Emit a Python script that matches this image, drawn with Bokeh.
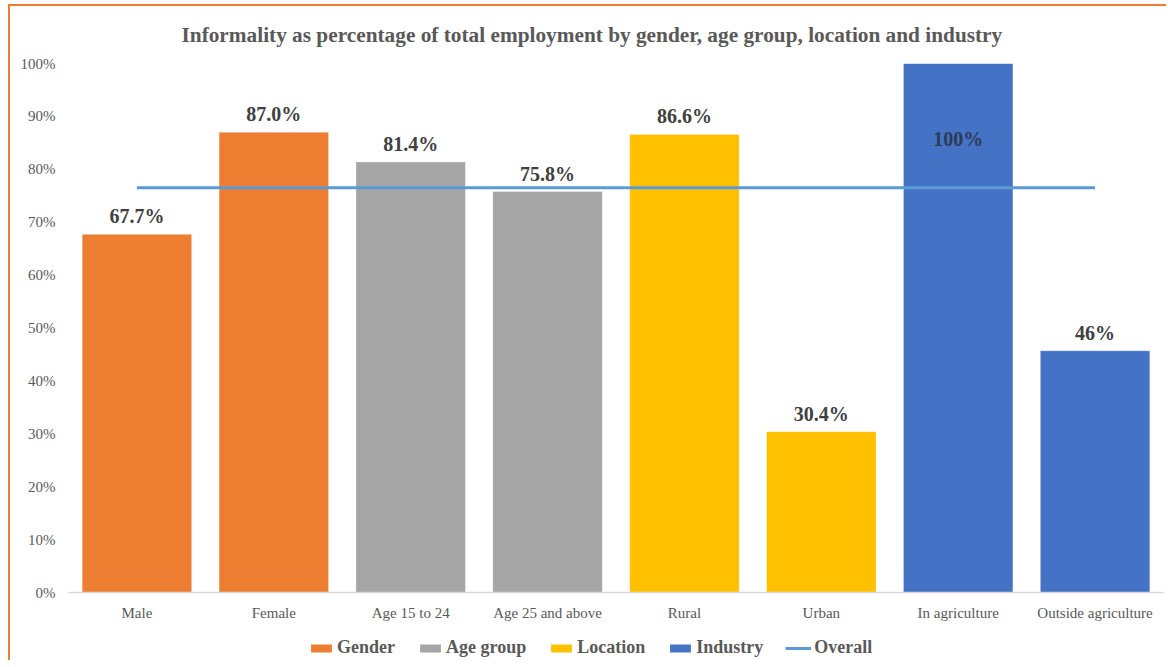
from bokeh.plotting import figure
from bokeh.layouts import column
from bokeh.models import (ColumnDataSource, Range1d, NumeralTickFormatter, FixedTicker,
                          Legend, LegendItem, Title)
from bokeh.core.properties import value
from bokeh.embed import file_html
from bokeh.resources import INLINE

# ---- data ----
categories = ["Male", "Female", "Age 15 to 24", "Age 25 and above",
              "Rural", "Urban", "In agriculture", "Outside agriculture"]
groups = ["Gender", "Gender", "Age group", "Age group",
          "Location", "Location", "Industry", "Industry"]
values = [67.7, 87.0, 81.4, 75.8, 86.6, 30.4, 100.0, 45.7]
labels = ["67.7%", "87.0%", "81.4%", "75.8%", "86.6%", "30.4%", "100%", "46%"]
overall = 76.5
group_names = ["Gender", "Age group", "Location", "Industry"]
group_colors = ["#ED7D31", "#A5A5A5", "#FFC000", "#4472C4"]
overall_color = "#5B9BD5"
y_ticks = [0, 10, 20, 30, 40, 50, 60, 70, 80, 90, 100]
title_text = "Informality as percentage of total employment by gender, age group, location and industry"

FONT = "serif"

p = figure(x_range=categories, y_range=Range1d(0, 1.0),
           width=1156, height=624, output_backend="svg", toolbar_location=None,
           min_border_left=58, min_border_right=3, min_border_top=57, min_border_bottom=38)
p.title = Title(text=title_text, align="left", offset=113, text_font=FONT,
                text_font_size="21.3px", text_font_style="bold", text_color="#595959",
                vertical_align="top", standoff=30)
p.outline_line_color = None
p.xgrid.grid_line_color = None
p.ygrid.grid_line_color = None
p.background_fill_color = "white"
p.border_fill_color = "white"

# axes
p.xaxis.axis_line_color = "#D9D9D9"
p.xaxis.axis_line_width = 1.5
p.xaxis.major_tick_line_color = None
p.xaxis.minor_tick_line_color = None
p.xaxis.major_label_text_font = FONT
p.xaxis.major_label_text_font_size = "15px"
p.xaxis.major_label_text_color = "#595959"
p.xaxis.major_label_standoff = 6

p.yaxis.axis_line_color = None
p.yaxis.major_tick_line_color = None
p.yaxis.minor_tick_line_color = None
p.yaxis.ticker = FixedTicker(ticks=[t / 100 for t in y_ticks])
p.yaxis.formatter = NumeralTickFormatter(format="0%")
p.yaxis.major_label_text_font = FONT
p.yaxis.major_label_text_font_size = "15px"
p.yaxis.major_label_text_color = "#595959"
p.yaxis.major_label_standoff = 7

# legend strip: a small figure sharing the x range; its y range lies above the data,
# so its renderers only serve as legend glyphs
p2 = figure(width=1156, height=30, output_backend="svg", toolbar_location=None,
            x_range=p.x_range, y_range=Range1d(10, 11),
            x_axis_type=None, y_axis_type=None, min_border=0)
p2.outline_line_color = None
p2.xgrid.grid_line_color = None
p2.ygrid.grid_line_color = None
p2.border_fill_color = "white"
p2.background_fill_color = "white"

items = []
for g, c in zip(group_names, group_colors):
    xs = [cat for cat, gg in zip(categories, groups) if gg == g]
    vs = [v / 100 for v, gg in zip(values, groups) if gg == g]
    src = ColumnDataSource(dict(x=xs, top=vs))
    p.vbar(x="x", top="top", width=0.8, source=src, fill_color=c,
           line_color="#FFFFFF", line_alpha=0.35, line_width=1)
    r2 = p2.vbar(x="x", top="top", width=0.8, source=src, fill_color=c, line_color=None)
    items.append(LegendItem(label=g, renderers=[r2]))

# overall line
ov_src = ColumnDataSource(dict(x=categories, y=[overall / 100] * len(categories)))
p.line(x="x", y="y", source=ov_src, line_color=overall_color, line_width=3)
l2 = p2.line(x="x", y="y", source=ov_src, line_color=overall_color, line_width=3)
items.append(LegendItem(label="Overall", renderers=[l2]))

# data labels
out_src = ColumnDataSource(dict(
    x=[c for c, v in zip(categories, values) if v < 99],
    y=[v / 100 for v in values if v < 99],
    t=[l for l, v in zip(labels, values) if v < 99]))
in_src = ColumnDataSource(dict(
    x=[c for c, v in zip(categories, values) if v >= 99],
    y=[v / 100 for v in values if v >= 99],
    t=[l for l, v in zip(labels, values) if v >= 99]))
p.text(x="x", y="y", text="t", source=out_src, text_font=value(FONT),
       text_font_size="20px", text_font_style="bold", text_color="#404040",
       text_align="center", text_baseline="bottom", y_offset=-7)
p.text(x="x", y="y", text="t", source=in_src, text_font=value(FONT),
       text_font_size="20px", text_font_style="bold", text_color="#2E3A55",
       text_align="center", text_baseline="middle", y_offset=75)

legend = Legend(items=items, orientation="horizontal", location=(240, 2),
                label_text_font=FONT, label_text_font_size="18px",
                label_text_font_style="bold", label_text_color="#595959",
                glyph_width=26, glyph_height=10, label_standoff=3, spacing=22,
                padding=0, margin=0, label_height=20,
                border_line_color=None, background_fill_alpha=0)
p2.add_layout(legend, "center")

layout = column(p, p2, spacing=0,
                styles={"border-top": "2px solid #ED7D31", "border-left": "2px solid #ED7D31",
                        "margin-left": "8px", "margin-top": "4px"})

open("out.html", "w").write(file_html(layout, INLINE))
